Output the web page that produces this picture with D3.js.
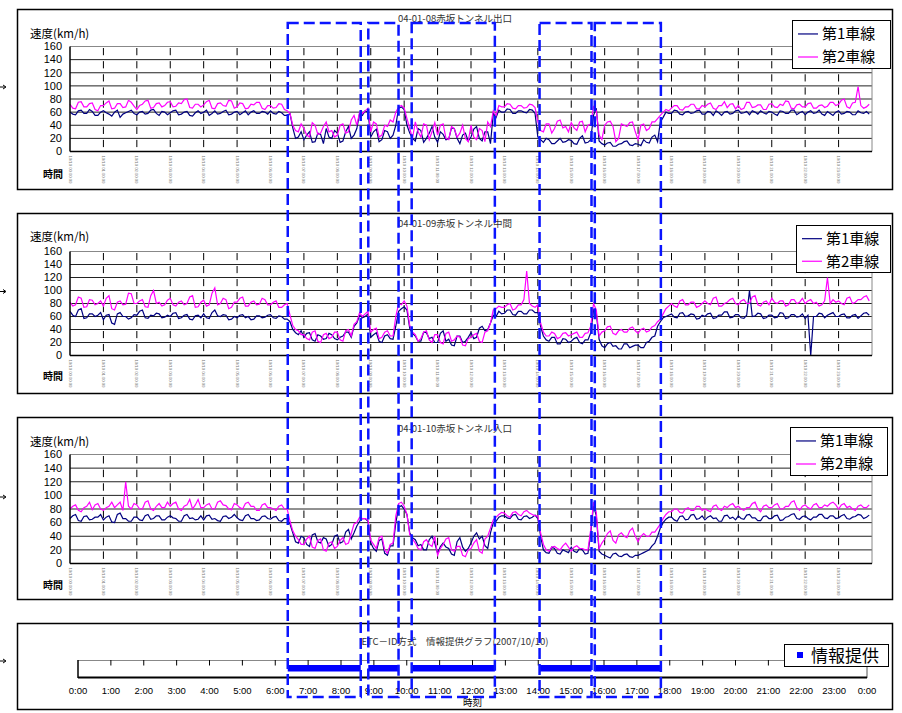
<!DOCTYPE html>
<html>
<head>
  <meta charset="utf-8">
  <title>赤坂トンネル 速度と情報提供</title>
  <style>
    html, body { margin: 0; padding: 0; background: #fff; }
    svg { display: block; }
    text { font-family: "Liberation Sans", "Noto Sans CJK JP", sans-serif; }
    .jp { font-family: "Noto Sans CJK JP", "Liberation Sans", sans-serif; }
  </style>
</head>
<body>
  <div id="chart"></div>

  <script src="https://d3js.org/d3.v7.min.js"></script>
  <script>
    // ---- data: 5 minute speeds (km/h), one row of twelve values per hour ----
    const laneNames = ["第1車線", "第2車線"];
    const yTicks = [0, 20, 40, 60, 80, 100, 120, 140, 160];
    const hourLabels = d3.range(25).map(h => (h % 24) + ":00");

    // 04-01-08 exit
    const exitLane1 = `
      60 57 56 62 63 58 58 64 61 55 55 60
      62 59 57 54 60 63 52 57 59 61 63 58
      56 60 61 57 58 63 64 58 55 61 60 56
      59 62 63 56 57 60 61 55 54 59 62 58
      60 63 55 58 62 57 58 61 63 56 57 60
      61 56 59 62 56 60 62 58 58 61 60 57
      62 58 57 61 59 55 55 58 36 20 22 30
      18 25 30 14 15 28 26 12 35 22 20 32
      28 14 16 30 38 20 25 35 58 55 62 60
      22 30 34 15 18 32 30 20 25 40 66 68
      64 40 28 20 16 35 32 14 20 28 38 22
      14 30 26 18 19 36 35 20 12 25 28 16
      22 34 38 20 16 30 30 12 58 52 63 60
      60 65 64 58 58 62 62 60 59 64 63 58
      22 18 14 20 18 12 12 16 20 14 15 18
      17 12 11 20 24 13 14 18 55 66 16 12
      10 13 14  8  8 11 12 15 16 10  9 12
      11  9 18 14 13 22 25 15 45 52 60 58
      58 63 62 57 56 60 61 58 59 62 63 57
      57 61 60 55 62 59 55 60 61 57 58 62
      63 58 59 61 56 62 60 57 62 59 57 61
      60 57 55 62 61 58 58 63 63 56 59 61
      56 60 62 58 59 63 57 55 61 58 55 60
      62 57 58 61 60 56 56 62 59 58 61 57`;
    const exitLane2 = `
      72 66 65 75 76 68 68 73 74 64 62 70
      70 74 77 65 66 73 73 67 68 78 75 69
      64 70 72 77 78 66 67 73 74 68 70 75
      76 68 69 74 73 79 80 67 66 72 72 68
      71 76 78 66 65 73 74 70 69 78 77 66
      68 74 73 65 66 72 71 75 75 66 64 70
      70 66 67 73 72 64 62 58 40 32 30 42
      35 25 22 44 40 26 28 38 45 30 32 22
      25 40 42 28 30 48 55 40 60 58 62 66
      30 45 42 22 25 40 38 48 45 60 68 70
      66 50 35 20 45 30 22 42 40 18 30 44
      25 40 42 20 18 38 35 22 28 40 20 15
      40 22 18 35 32 15 45 38 62 55 70 68
      68 73 72 66 65 70 70 66 67 72 71 67
      45 32 30 42 42 28 35 46 48 36 38 30
      44 36 32 45 46 30 40 42 68 62 25 18
      40 45 46 38 15 20 42 40 38 44 45 30
      18 40 42 32 35 45 45 50 55 60 64 62
      66 70 70 64 63 68 68 72 72 65 65 70
      68 72 74 66 64 70 70 76 67 72 73 65
      70 64 66 75 75 67 68 71 71 64 64 72
      73 68 67 72 70 77 76 66 65 71 72 68
      68 73 74 66 66 70 71 67 69 75 75 70
      72 78 80 68 66 74 75 99 70 66 68 72`;

    // 04-01-09 middle
    const midLane1 = `
      68 62 60 70 72 57 58 64 64 60 62 66
      55 62 63 50 48 64 66 60 60 56 58 63
      62 68 70 58 57 62 61 65 64 58 59 62
      60 65 66 57 58 62 63 56 55 61 62 58
      64 58 57 66 70 61 60 63 62 55 56 60
      58 62 63 58 60 55 56 61 61 58 59 62
      63 58 57 61 60 56 56 52 40 35 32 38
      28 34 35 24 22 32 30 25 26 34 32 26
      24 28 30 36 36 28 45 50 62 58 60 64
      28 32 35 22 20 30 32 26 25 45 68 72
      75 70 42 34 30 22 22 36 35 26 28 20
      20 34 38 22 25 16 15 30 30 20 22 28
      35 26 28 42 45 38 40 50 62 60 68 64
      65 70 70 63 62 68 68 64 64 70 70 66
      66 45 30 24 22 28 28 18 18 26 25 20
      22 26 28 20 18 24 24 35 70 65 25 15
      12 18 20 14 15 10 10 18 18 12 14 16
      16 12 12 20 22 28 30 45 52 58 60 62
      64 59 58 65 66 60 61 64 63 56 57 62
      60 64 65 57 58 62 62 67 67 58 59 63
      63 58 57 62 100 60 61 65 64 57 58 62
      62 58 59 66 65 57 58 63 63 59 60 64
      57 62  0 60 60 65 64 58 62 64 66 60
      60 63 64 58 58 62 63 57 61 65 66 62`;
    const midLane2 = `
      82 76 78 90 88 74 75 86 85 78 80 84
      76 88 92 72 70 82 84 78 79 96 95 80
      80 84 86 75 74 92 100 80 82 76 78 85
      88 78 76 82 84 78 80 90 92 74 75 82
      85 76 78 96 104 78 80 88 86 72 74 82
      82 88 90 76 76 82 84 78 79 88 86 78
      78 82 84 74 74 78 80 62 46 40 38 32
      32 26 24 36 38 22 20 32 34 26 28 36
      36 24 22 38 40 30 48 52 66 60 64 68
      36 40 42 26 28 36 38 30 30 60 80 78
      84 76 46 36 32 22 26 36 38 24 20 32
      32 20 18 34 36 22 24 30 28 16 15 26
      28 32 34 22 20 36 38 50 70 72 76 74
      74 78 80 70 72 78 78 86 130 80 76 74
      78 50 36 30 30 36 34 26 28 34 35 30
      32 34 36 28 28 34 35 45 80 70 30 36
      38 44 45 34 32 38 40 36 36 42 44 38
      34 40 42 36 38 44 46 52 56 64 72 76
      80 76 74 84 86 78 78 82 82 74 76 80
      84 80 78 88 90 76 76 80 82 86 88 80
      78 84 86 80 80 90 92 78 76 82 84 78
      88 82 80 84 84 76 78 86 86 80 82 88
      80 84 86 80 82 76 78 84 120 80 86 82
      84 80 78 88 90 80 82 86 86 90 92 84`;

    // 04-01-10 entrance
    const entLane1 = `
      66 70 72 63 62 69 70 64 65 68 68 72
      64 68 70 61 60 72 74 66 66 62 62 68
      68 64 63 70 72 65 66 70 70 64 64 68
      70 67 66 62 62 70 72 66 67 64 65 70
      64 70 71 65 66 63 62 69 70 66 68 72
      67 64 63 70 72 66 66 63 64 69 70 66
      65 68 69 63 62 66 66 58 45 32 30 40
      38 28 25 42 44 32 30 38 36 25 28 40
      42 30 32 46 50 36 45 55 62 66 66 62
      30 22 18 34 36 15 12 26 26 60 82 85
      80 72 45 38 35 26 28 20 20 35 40 30
      15 25 30 24 22 14 12 32 38 24 18 22
      30 40 45 36 40 26 22 45 60 62 68 70
      70 67 66 71 72 65 64 69 70 66 68 71
      66 40 20 16 15 24 22 15 14 20 18 16
      24 18 16 22 20 14 15 45 85 70 18 14
      12 10  8 14 15 11 10 13 14 10  9 12
      12 14 16 18 20 26 30 40 52 60 65 68
      68 64 62 69 70 64 65 71 72 65 66 70
      64 68 70 66 67 62 62 70 71 66 68 64
      70 66 65 71 72 67 67 63 63 69 70 66
      66 70 71 63 64 68 69 72 73 66 65 69
      70 66 64 68 68 72 72 67 66 70 70 66
      67 70 72 66 65 68 69 72 71 66 68 71`;
    const entLane2 = `
      80 84 86 78 76 82 84 90 79 86 88 80
      78 82 84 90 82 86 90 78 120 84 80 88
      86 80 80 90 92 80 78 84 88 82 82 90
      84 88 90 80 78 84 86 94 80 86 94 82
      82 86 88 80 80 90 92 86 85 80 79 88
      86 82 80 88 90 84 84 78 78 86 88 82
      82 80 78 84 86 80 80 62 48 40 35 28
      28 36 40 24 22 34 36 20 18 30 32 22
      25 34 38 28 30 44 58 60 68 66 66 64
      34 28 22 38 40 20 15 28 30 70 88 90
      84 72 42 36 30 22 20 32 35 28 25 40
      12 22 28 36 38 20 18 25 25 12 10 20
      22 30 35 18 15 36 40 52 64 68 72 75
      74 70 68 75 76 72 70 76 78 74 72 70
      70 45 28 20 18 24 25 22 20 26 30 24
      18 24 26 22 22 20 20 50 90 75 22 30
      36 44 48 34 30 42 45 40 38 48 52 40
      32 40 44 40 40 46 46 52 58 66 72 76
      76 80 80 75 74 80 82 78 78 84 84 78
      80 78 76 84 86 80 78 84 82 86 88 82
      84 80 78 82 82 88 90 80 76 84 86 82
      82 86 88 80 80 84 84 90 92 82 78 84
      86 82 80 86 88 82 82 86 84 88 90 86
      80 86 88 82 84 80 78 84 86 82 82 86`;

    // information provision periods (hours of day)
    const infoStart = [6.38, 8.83, 10.15, 14.04, 15.72];
    const infoEnd   = [8.60, 9.75, 12.68, 15.62, 17.73];

    const panelTitles = ["04-01-08赤坂トンネル出口", "04-01-09赤坂トンネル中間", "04-01-10赤坂トンネル入口"];
    const infoTitle = "ETC－ID方式　情報提供グラフ(2007/10/10)";

    // ---- helpers ----
    const parse = s => s.trim().split(/\s+/).map(Number);
    const toSeries = vals => vals.map((v, i) => ({h: i / 12, v: v}));

    const series = [
      [toSeries(parse(exitLane1)), toSeries(parse(exitLane2))],
      [toSeries(parse(midLane1)), toSeries(parse(midLane2))],
      [toSeries(parse(entLane1)), toSeries(parse(entLane2))]
    ];

    const W = 902, H = 713;
    const laneColors = ["#000080", "#ff00ff"];

    const svg = d3.select("#chart").append("svg")
      .attr("width", W).attr("height", H);

    const x = d3.scaleLinear().domain([0, 24]).range([70, 872]);

    // panel frames and plot areas
    const panels = [
      {frame: [9, 189],   plot: [46.5, 151.5], titleY: 19,  ylabY: 34,  timeY: 174, legend: [792, 20, 98, 48]},
      {frame: [213, 393], plot: [251.5, 355.5], titleY: 224, ylabY: 237, timeY: 376, legend: [796, 225, 94, 47]},
      {frame: [417, 599], plot: [454.5, 563.5], titleY: 429, ylabY: 442, timeY: 585, legend: [790, 427, 97, 48]}
    ];

    function arrow(y) {
      svg.append("path")
        .attr("d", `M0,${y} L5,${y} M3,${y - 2} L6,${y} L3,${y + 2}`)
        .attr("stroke", "#000").attr("fill", "none").attr("stroke-width", 1);
    }

    panels.forEach((p, k) => {
      const g = svg.append("g");
      g.append("rect")
        .attr("x", 17.5).attr("y", p.frame[0] + 0.5)
        .attr("width", 875).attr("height", p.frame[1] - p.frame[0])
        .attr("fill", "#fff").attr("stroke", "#000").attr("stroke-width", 1.5);
      arrow((p.plot[0] + p.plot[1]) / 2 - 12);

      const y = d3.scaleLinear().domain([0, 160]).range([p.plot[1], p.plot[0]]);
      const band = (p.plot[1] - p.plot[0]) / 8;

      // horizontal grid
      g.selectAll("line.grid").data(yTicks.slice(1)).join("line")
        .attr("x1", x(0)).attr("x2", x(24))
        .attr("y1", d => y(d)).attr("y2", d => y(d))
        .attr("stroke", d => d === 160 ? "#888" : "#222").attr("stroke-width", 1);
      // right border
      g.append("line").attr("x1", x(24)).attr("x2", x(24))
        .attr("y1", y(160)).attr("y2", y(0)).attr("stroke", "#888");

      // hour tick lines (dashed)
      g.selectAll("line.hr").data(d3.range(1, 24)).join("line")
        .attr("x1", d => x(d)).attr("x2", d => x(d))
        .attr("y1", y(160)).attr("y2", y(0))
        .attr("stroke", "#000").attr("stroke-width", 1)
        .attr("stroke-dasharray", `${band * 0.55},${band * 0.45}`)
        .attr("stroke-dashoffset", -1.5);

      // lines
      const line = d3.line().x(d => x(d.h)).y(d => y(d.v));
      series[k].forEach((s, j) => {
        g.append("path").datum(s)
          .attr("d", line).attr("fill", "none")
          .attr("stroke", laneColors[j]).attr("stroke-width", 1.2);
      });

      // axes
      g.append("line").attr("x1", x(0)).attr("x2", x(0))
        .attr("y1", y(160)).attr("y2", y(0)).attr("stroke", "#000").attr("stroke-width", 1.5);
      g.append("line").attr("x1", x(0)).attr("x2", x(24))
        .attr("y1", y(0)).attr("y2", y(0)).attr("stroke", "#000").attr("stroke-width", 1.5);

      g.selectAll("text.yt").data(yTicks).join("text")
        .attr("x", 62).attr("y", d => y(d)).attr("dy", "0.35em")
        .attr("text-anchor", "end").attr("font-size", 11).attr("fill", "#000")
        .text(d => d);

      // tiny rotated time stamps
      g.selectAll("text.xt").data(d3.range(0, 24)).join("text")
        .attr("transform", d => `translate(${x(d) - 1.5},${y(0) + 4}) rotate(90)`)
        .attr("font-size", 4.2).attr("fill", "#777")
        .text(d => "10/10 " + d3.format("02")(d) + ":00:00");

      g.append("text").attr("class", "jp")
        .attr("x", 30).attr("y", p.ylabY).attr("dy", "0.35em")
        .attr("font-size", 11.5).text("速度(km/h)");
      g.append("text").attr("class", "jp")
        .attr("x", 43).attr("y", p.timeY).attr("dy", "0.35em")
        .attr("font-size", 10).attr("font-weight", "bold").text("時間");

      g.append("text").attr("class", "jp")
        .attr("x", 455).attr("y", p.titleY).attr("dy", "0.35em")
        .attr("text-anchor", "middle").attr("font-size", 9.5).attr("fill", "#333")
        .text(panelTitles[k]);

      // legend
      const [lx, ly, lw, lh] = p.legend;
      const lg = g.append("g");
      lg.append("rect").attr("x", lx + 0.5).attr("y", ly + 0.5)
        .attr("width", lw).attr("height", lh)
        .attr("fill", "#fff").attr("stroke", "#000").attr("stroke-width", 1);
      laneNames.forEach((n, j) => {
        const cy = ly + lh * (0.27 + 0.48 * j) + 1;
        lg.append("line").attr("x1", lx + 6).attr("x2", lx + 26)
          .attr("y1", cy).attr("y2", cy).attr("stroke", laneColors[j]).attr("stroke-width", 1.2);
        lg.append("text").attr("class", "jp")
          .attr("x", lx + 30).attr("y", cy).attr("dy", "0.36em")
          .attr("font-size", 15).text(n);
      });
    });

    // ---- information provision panel ----
    const xb = d3.scaleLinear().domain([0, 24]).range([78, 867]);
    const g4 = svg.append("g");
    g4.append("rect")
      .attr("x", 17.5).attr("y", 623.5).attr("width", 875).attr("height", 86)
      .attr("fill", "#fff").attr("stroke", "#000").attr("stroke-width", 1.5);
    arrow(661);

    g4.append("text").attr("class", "jp")
      .attr("x", 455).attr("y", 642).attr("dy", "0.35em")
      .attr("text-anchor", "middle").attr("font-size", 9.5).attr("fill", "#333")
      .text(infoTitle);

    g4.append("line").attr("x1", xb(0)).attr("x2", xb(24))
      .attr("y1", 660.5).attr("y2", 660.5).attr("stroke", "#888");
    g4.append("line").attr("x1", xb(24)).attr("x2", xb(24))
      .attr("y1", 660).attr("y2", 678).attr("stroke", "#555");
    g4.selectAll("line.tk").data(d3.range(1, 24)).join("line")
      .attr("x1", d => xb(d)).attr("x2", d => xb(d))
      .attr("y1", 660).attr("y2", 665.5).attr("stroke", "#000");

    g4.selectAll("rect.info").data(d3.zip(infoStart, infoEnd)).join("rect")
      .attr("x", d => xb(d[0])).attr("width", d => xb(d[1]) - xb(d[0]))
      .attr("y", 665).attr("height", 6.5).attr("fill", "#0000ff");

    g4.append("line").attr("x1", xb(0)).attr("x2", xb(0))
      .attr("y1", 660).attr("y2", 678).attr("stroke", "#000").attr("stroke-width", 1.5);
    g4.append("line").attr("x1", xb(0)).attr("x2", xb(24))
      .attr("y1", 677.5).attr("y2", 677.5).attr("stroke", "#000").attr("stroke-width", 2);

    g4.selectAll("text.hl").data(hourLabels).join("text")
      .attr("x", (d, i) => xb(i)).attr("y", 691).attr("dy", "0.35em")
      .attr("text-anchor", "middle").attr("font-size", 9.5).attr("fill", "#000")
      .text(d => d);
    g4.append("text").attr("class", "jp")
      .attr("x", xb(12)).attr("y", 703).attr("dy", "0.35em")
      .attr("text-anchor", "middle").attr("font-size", 9.5).text("時刻");

    const lg4 = g4.append("g");
    lg4.append("rect").attr("x", 784.5).attr("y", 644.5).attr("width", 104).attr("height", 22)
      .attr("fill", "#fff").attr("stroke", "#000");
    lg4.append("rect").attr("x", 797).attr("y", 652).attr("width", 6).attr("height", 6).attr("fill", "#0000ff");
    lg4.append("text").attr("class", "jp")
      .attr("x", 811).attr("y", 655.5).attr("dy", "0.36em")
      .attr("font-size", 17).text("情報提供");

    // ---- dashed highlight windows spanning all panels ----
    svg.append("g").selectAll("rect").data(d3.zip(infoStart, infoEnd)).join("rect")
      .attr("x", d => xb(d[0])).attr("width", d => xb(d[1]) - xb(d[0]))
      .attr("y", 23).attr("height", 674)
      .attr("fill", "none").attr("stroke", "#0a14ff").attr("stroke-width", 2.5)
      .attr("stroke-dasharray", "11,5");
  </script>
</body>
</html>
